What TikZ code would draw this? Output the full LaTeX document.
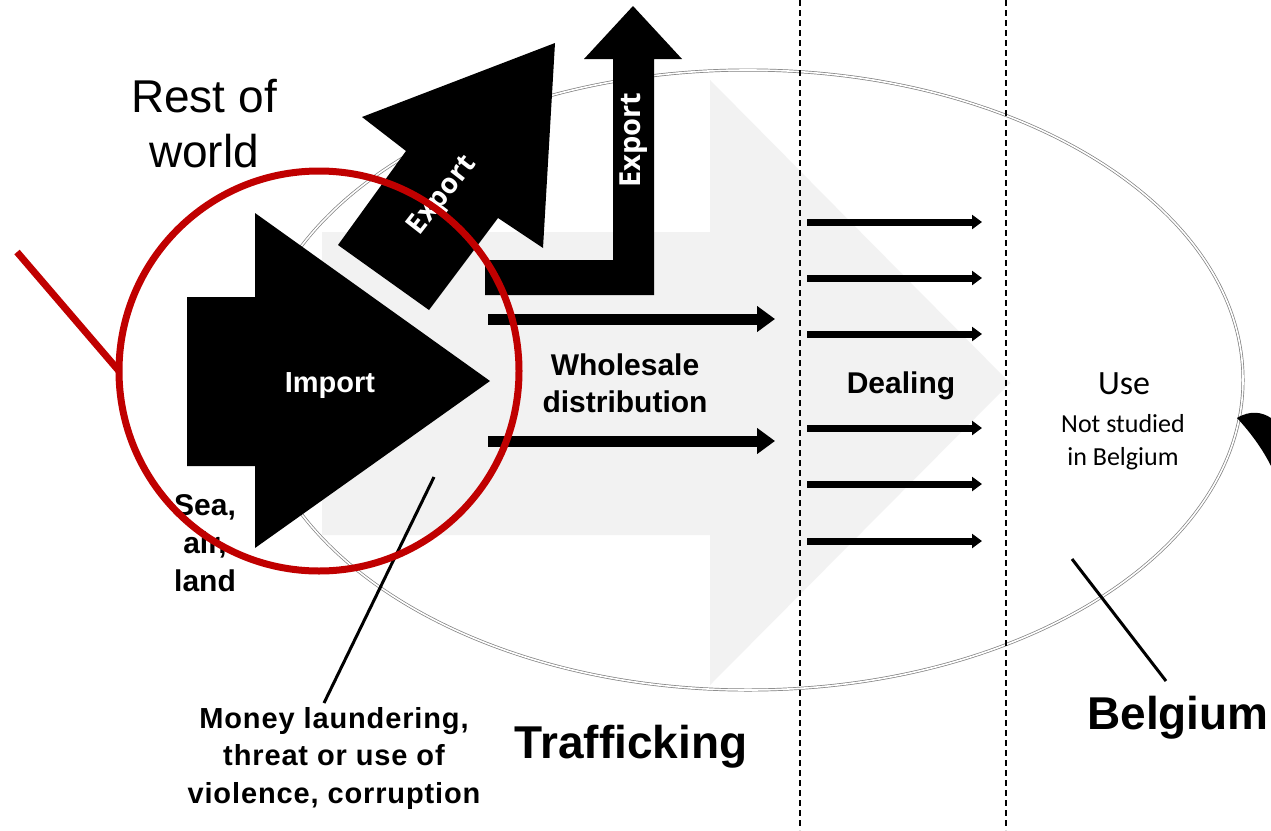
\documentclass[tikz,border=0pt]{standalone}
\usepackage{fontspec}
\setmainfont{Liberation Sans}
\newfontfamily\osans{Open Sans}
\newfontfamily\calib{Carlito}
\newfontfamily\spaced{Liberation Sans}[LetterSpace=3]
\usetikzlibrary{arrows.meta}
\definecolor{bggray}{HTML}{F2F2F2}
\definecolor{redc}{HTML}{C00000}
\definecolor{ellgray}{HTML}{7F7F7F}
\begin{document}
\begin{tikzpicture}[x=1pt,y=-1pt,
  txt/.style={inner sep=0pt, align=center},
  blackfill/.style={fill=black},
  ell/.style={draw=ellgray, line width=0.7pt, double=white, double distance=1.6pt},
  sep/.style={draw=black, line width=1.2pt, dash pattern=on 6pt off 4pt},
  bigarr/.style={line width=11pt, -{Triangle[length=18pt,width=25pt]}},
  dealarr/.style={line width=7pt, -{Triangle[length=10pt,width=14pt]}},
  lead/.style={draw=black, line width=3pt},
  redring/.style={circle, draw=redc, line width=7pt, minimum size=400pt, inner sep=0pt, outer sep=0pt},
  redline/.style={draw=redc, line width=7pt}
]
\useasboundingbox (0,0) rectangle (1271,830);
\fill[white] (0,0) rectangle (1271,830);

% background grey process arrow
\fill[bggray] (322,232) -- (710,232) -- (710,80) -- (1010,383) -- (710,685) -- (710,535) -- (322,535) -- cycle;

% Belgium ellipse
\draw[ell] (748,380) ellipse [x radius=495pt, y radius=310pt];

% dashed separators
\coordinate (d1t) at (800,0);  \coordinate (d1b) at (800,830);
\coordinate (d2t) at (1006,0); \coordinate (d2b) at (1006,830);
\draw[sep] (d1t) -- (d1b);
\draw[sep] (d2t) -- (d2b);

% import arrow
\fill[blackfill] (187,297) -- (255,297) -- (255,213) -- (490,381) -- (255,548) -- (255,466) -- (187,466) -- cycle;
\node[txt, text=white, font=\fontsize{29}{34}\selectfont\bfseries] (import) at (330,386) {Import};

% diagonal export arrow
\fill[blackfill] (338,245) -- (406,151) -- (362,117) -- (555,43) -- (543,248) -- (498,218) -- (429,310) -- cycle;
\node[txt, text=white, rotate=52, font=\osans\fontsize{28}{32}\selectfont\bfseries] (exp1) at (443,196) {Export};

% bent export arrow
\fill[blackfill] (485,295) -- (485,260) -- (613,260) -- (613,59) -- (584,59) -- (633,6) -- (682,59) -- (654,59) -- (654,295) -- cycle;
\node[txt, text=white, rotate=90, font=\osans\fontsize{29}{32}\selectfont\bfseries] (exp2) at (634,140) {Export};

% wholesale arrows
\coordinate (w1s) at (488,319); \coordinate (w1e) at (775,319);
\coordinate (w2s) at (488,441); \coordinate (w2e) at (775,441);
\draw[bigarr] (w1s) -- (w1e);
\draw[bigarr] (w2s) -- (w2e);

% dealing arrows
\foreach \i/\y in {1/222,2/278,3/334,4/428,5/484,6/541}{
  \coordinate (ds\i) at (807,\y);
  \coordinate (de\i) at (982,\y);
  \draw[dealarr] (ds\i) -- (de\i);
}

% texts
\node[txt, font=\fontsize{46}{55}\selectfont] (rest) at (204,124) {Rest of\\world};
\node[txt, font=\fontsize{30}{37}\selectfont\bfseries] (whole) at (625,383) {Wholesale\\distribution};
\node[txt, font=\fontsize{30}{36}\selectfont\bfseries] (deal) at (901,386) {Dealing};
\node[txt, font=\calib\fontsize{34}{40}\selectfont] (use) at (1124,384) {Use};
\node[txt, font=\calib\fontsize{26}{33}\selectfont] (notst) at (1123,442) {Not studied\\in Belgium};
\node[txt, font=\fontsize{30}{38}\selectfont\bfseries] (sea) at (205,543) {Sea,\\air,\\land};
\node[txt, font=\spaced\fontsize{29}{37.5}\selectfont\bfseries] (money) at (334,758) {Money laundering,\\threat or use of\\violence, corruption};
\node[txt, font=\fontsize{46}{55}\selectfont\bfseries] (traff) at (631,747) {Trafficking};
\node[txt, font=\fontsize{46}{55}\selectfont\bfseries] (belg) at (1178,718) {Belgium};

% leader lines
\coordinate (m1) at (434,477); \coordinate (m2) at (324,703);
\draw[lead] (m1) -- (m2);
\coordinate (b1) at (1072,559); \coordinate (b2) at (1166,681);
\draw[lead] (b1) -- (b2);

% partial shape at right edge
\fill[blackfill] (1237,418) .. controls (1250,410) and (1262,412) .. (1271,418) -- (1271,466) .. controls (1262,448) and (1250,432) .. cycle;

% red highlight
\node[redring] (ring) at (319,371) {};
\coordinate (r0) at (17,252);
\draw[redline] (r0) -- (ring.west);
\end{tikzpicture}
\end{document}
